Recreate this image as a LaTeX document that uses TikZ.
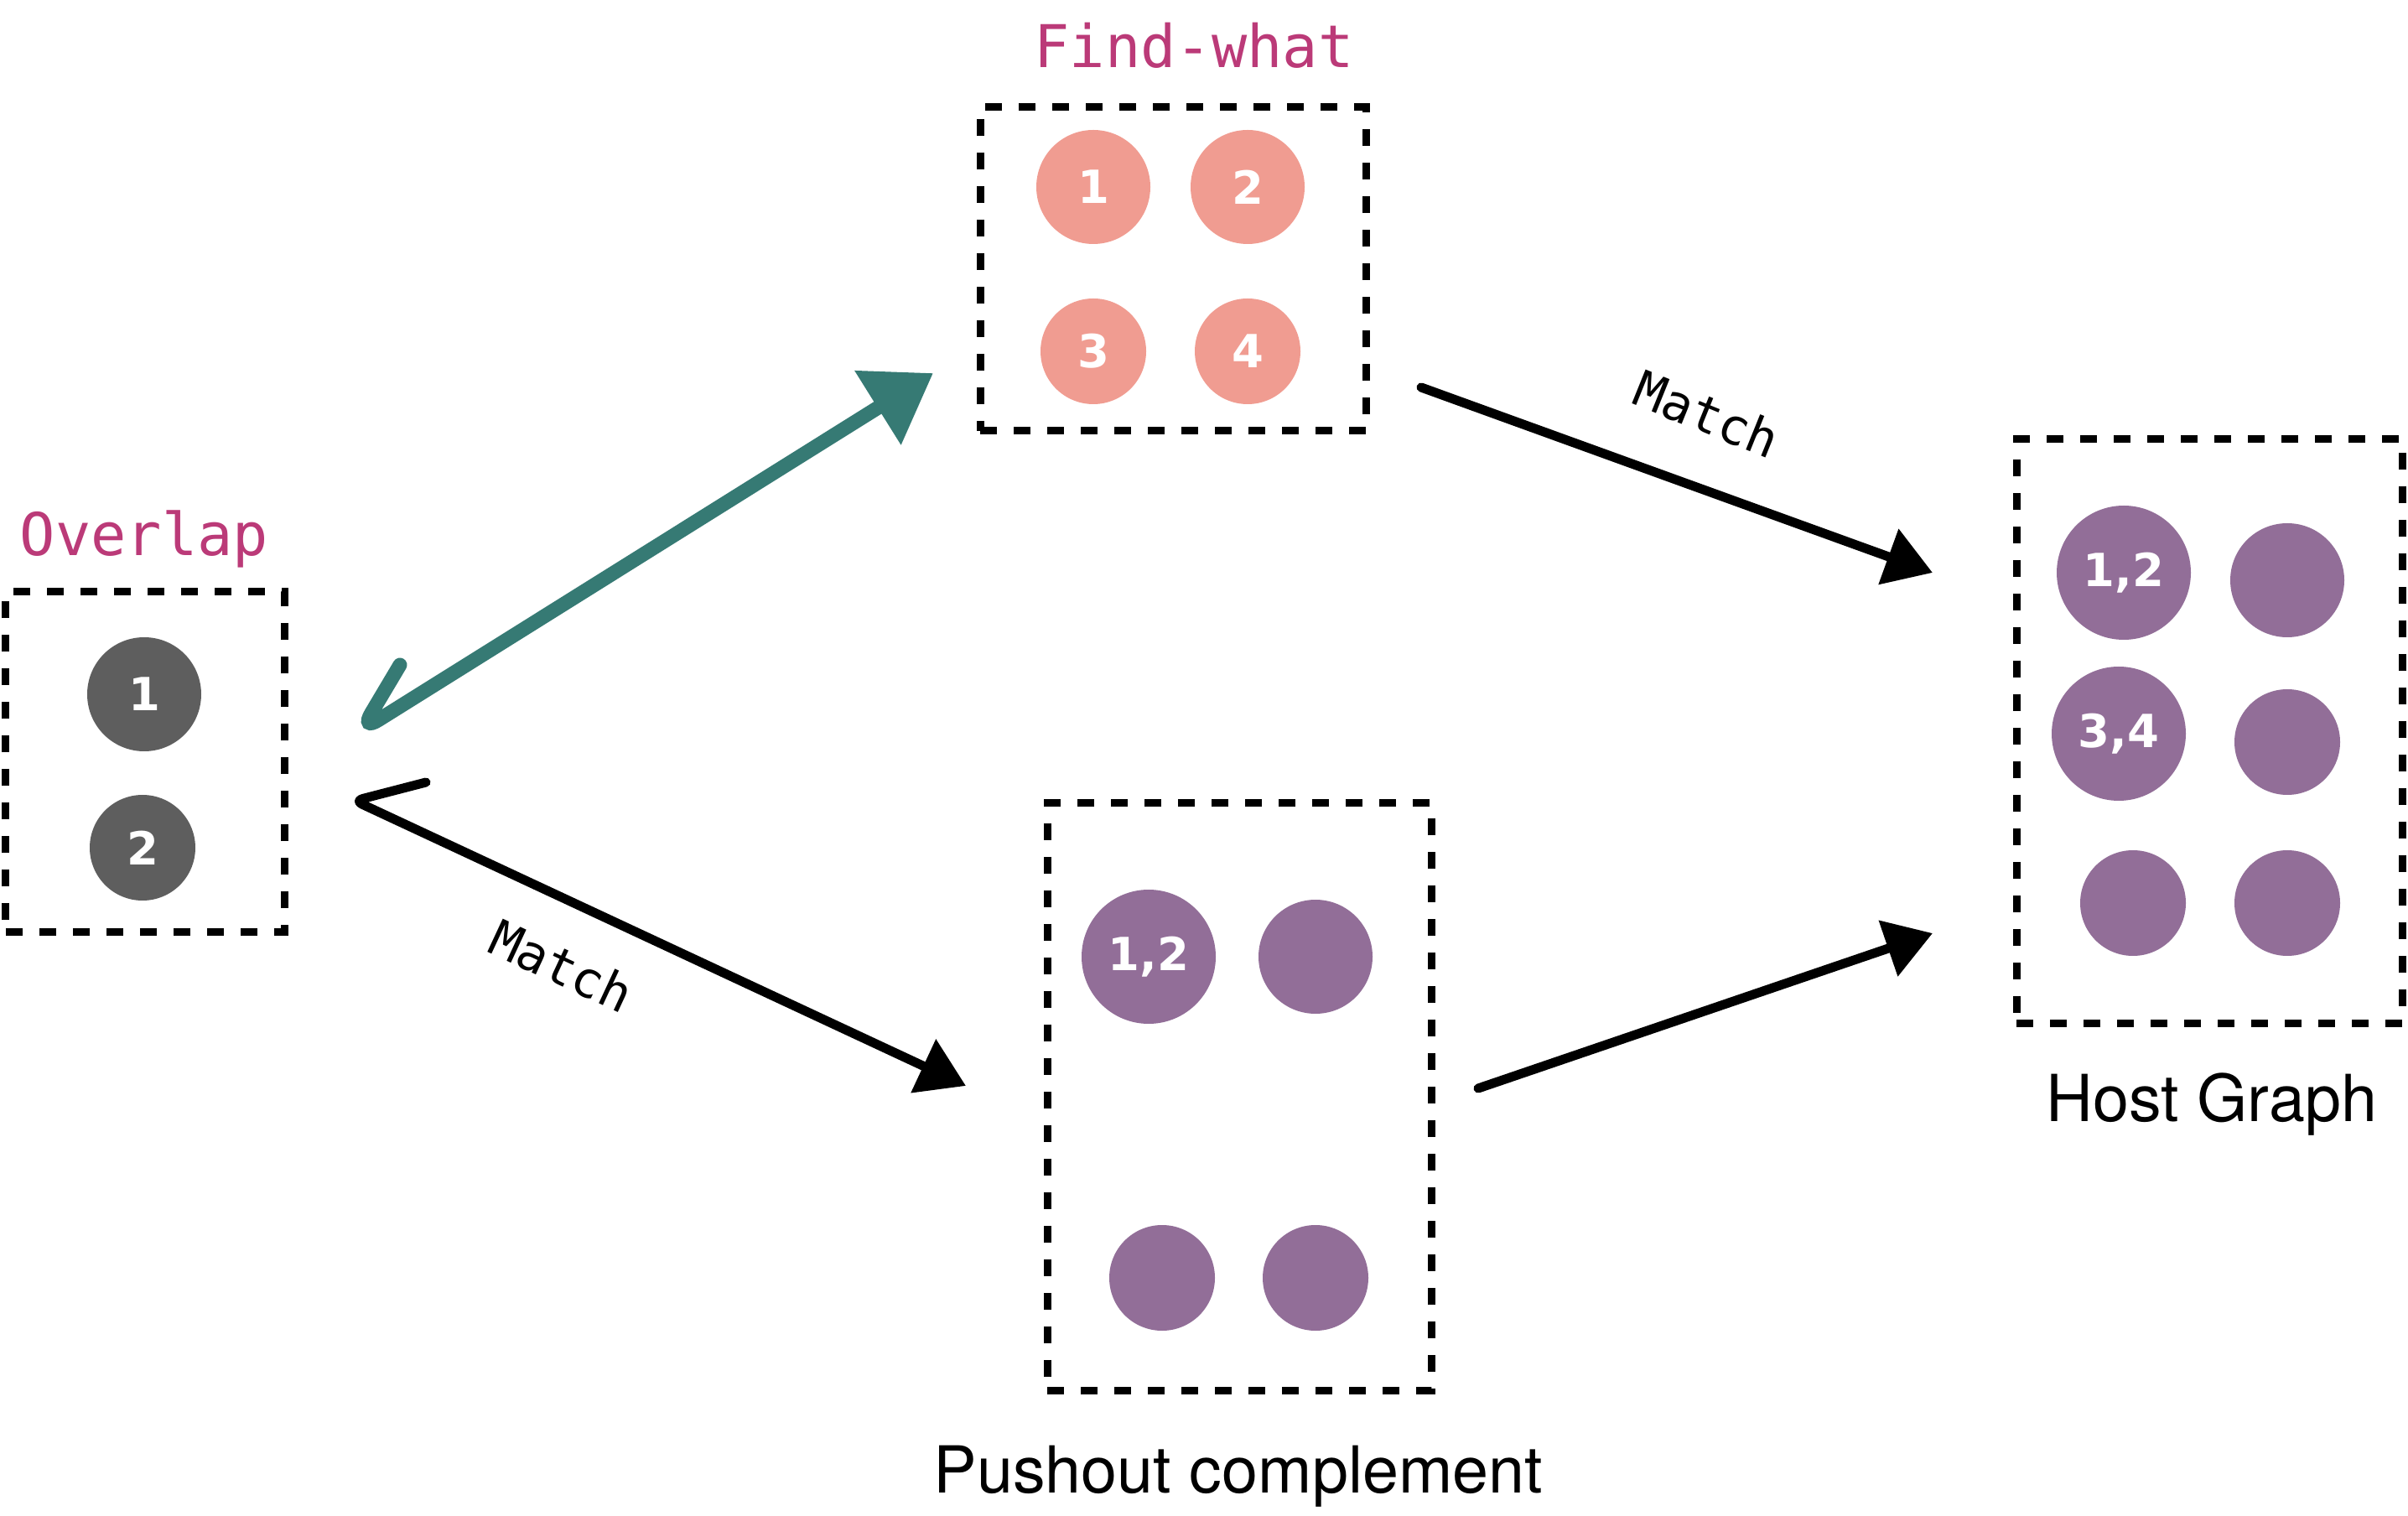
\documentclass[tikz,border=0pt]{standalone}
\usepackage{fontspec}
\usetikzlibrary{arrows.meta}
\newfontfamily\labelfont{DejaVu Sans Mono}
\newfontfamily\capfont{TeX Gyre Heros}
\newfontfamily\numfont{DejaVu Sans}
\definecolor{setmagenta}{RGB}{187,58,120}
\definecolor{nodegrey}{RGB}{94,94,94}
\definecolor{nodesalmon}{RGB}{240,156,145}
\definecolor{nodepurple}{RGB}{146,110,152}
\definecolor{chalkteal}{RGB}{54,122,116}
\begin{document}
\begin{tikzpicture}[
  graphbox/.style={draw,line width=.09cm,dash pattern=on .2cm off .2cm,inner sep=0pt},
  vtx/.style={circle,fill=#1,inner sep=0pt,text=white,
    font=\numfont\bfseries\fontsize{15.5}{15.5}\selectfont},
  title/.style={text=setmagenta,font=\labelfont\fontsize{20}{20}\selectfont},
  caption/.style={font=\capfont\fontsize{22}{22}\selectfont},
  arrlbl/.style={font=\labelfont\fontsize{17}{17}\selectfont},
  chalk/.style={line width=.11cm,line cap=round,line join=round,
    -{Triangle[length=.56cm,width=.68cm]}}]
  \useasboundingbox (0,0) rectangle (28.72,-18.08);
  % overlap
  \node[graphbox,minimum width=3.32cm,minimum height=4.05cm] (overlap) at (1.73,-9.085) {};
  \node[title,anchor=base] (overlaptitle) at (1.72,-6.63) {Overlap};
  \node[vtx=nodegrey,minimum size=1.36cm] (ov1) at (1.72,-8.28) {1};
  \node[vtx=nodegrey,minimum size=1.26cm] (ov2) at (1.70,-10.11) {2};
  % find-what
  \node[graphbox,minimum width=4.60cm,minimum height=3.86cm] (findwhat) at (13.99,-3.21) {};
  \node[title,anchor=base] (findtitle) at (14.24,-0.81) {Find-what};
  \node[vtx=nodesalmon,minimum size=1.36cm] (fw1) at (13.04,-2.23) {1};
  \node[vtx=nodesalmon,minimum size=1.36cm] (fw2) at (14.88,-2.23) {2};
  \node[vtx=nodesalmon,minimum size=1.26cm] (fw3) at (13.04,-4.19) {3};
  \node[vtx=nodesalmon,minimum size=1.26cm] (fw4) at (14.88,-4.19) {4};
  % pushout complement
  \node[graphbox,minimum width=4.58cm,minimum height=7.00cm] (pushout) at (14.78,-13.08) {};
  \node[caption,anchor=base] (pushoutcap) at (14.77,-17.80) {Pushout complement};
  \node[vtx=nodepurple,minimum size=1.60cm] (po12) at (13.70,-11.41) {1,2};
  \node[vtx=nodepurple,minimum size=1.36cm] (poa) at (15.69,-11.41) {};
  \node[vtx=nodepurple,minimum size=1.26cm] (pob) at (13.86,-15.24) {};
  \node[vtx=nodepurple,minimum size=1.26cm] (poc) at (15.69,-15.24) {};
  % host graph
  \node[graphbox,minimum width=4.60cm,minimum height=6.96cm] (host) at (26.35,-8.72) {};
  \node[caption,anchor=base] (hostcap) at (26.38,-13.37) {Host Graph};
  \node[vtx=nodepurple,minimum size=1.60cm] (h12) at (25.33,-6.83) {1,2};
  \node[vtx=nodepurple,minimum size=1.36cm] (ha) at (27.28,-6.92) {};
  \node[vtx=nodepurple,minimum size=1.60cm] (h34) at (25.27,-8.75) {3,4};
  \node[vtx=nodepurple,minimum size=1.26cm] (hb) at (27.28,-8.85) {};
  \node[vtx=nodepurple,minimum size=1.26cm] (hc) at (25.44,-10.77) {};
  \node[vtx=nodepurple,minimum size=1.26cm] (hd) at (27.28,-10.77) {};
  % arrows
  \coordinate (tealhook) at (4.77,-7.93);
  \coordinate (tealbend) at (4.30,-8.72);
  \coordinate (tealtip) at (11.13,-4.45);
  \draw[chalkteal,line width=.17cm,line cap=round,rounded corners=.25cm,
    -{Triangle[length=.78cm,width=1cm]}] (tealhook) -- (tealbend) -- (tealtip);
  \coordinate (matchhook) at (5.08,-9.33);
  \coordinate (matchbend) at (4.23,-9.55);
  \coordinate (pushin) at (11.52,-12.95);
  \draw[chalk,rounded corners=.1cm] (matchhook) -- (matchbend) -- (pushin);
  \node[arrlbl,rotate=-25] (matchlow) at (6.70,-11.52) {Match};
  \coordinate (findout) at (16.95,-4.62);
  \coordinate (hostin) at (23.05,-6.83);
  \draw[chalk] (findout) -- (hostin);
  \node[arrlbl,rotate=-22] (matchup) at (20.36,-4.94) {Match};
  \coordinate (pushoutout) at (17.63,-12.98);
  \coordinate (hostinlow) at (23.05,-11.13);
  \draw[chalk] (pushoutout) -- (hostinlow);
\end{tikzpicture}
\end{document}
